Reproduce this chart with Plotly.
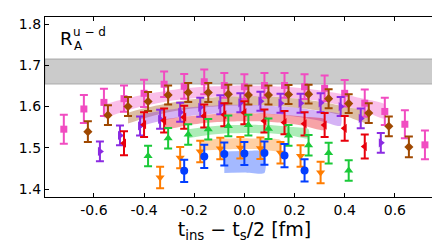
import plotly.graph_objects as go

# ---------------- data ----------------
pink_x = [-0.72, -0.64, -0.56, -0.48, -0.40, -0.32, -0.24, -0.16, -0.08, 0.0, 0.08, 0.16, 0.24, 0.32, 0.40, 0.48, 0.56, 0.64, 0.72]
pink_y = [1.545, 1.594, 1.610, 1.619, 1.632, 1.654, 1.649, 1.660, 1.651, 1.648, 1.651, 1.651, 1.648, 1.644, 1.632, 1.608, 1.588, 1.557, 1.507]
pink_e = [0.035, 0.034, 0.033, 0.032, 0.033, 0.031, 0.030, 0.030, 0.030, 0.030, 0.030, 0.030, 0.030, 0.031, 0.032, 0.033, 0.033, 0.034, 0.035]

brown_x = [-0.624, -0.544, -0.464, -0.384, -0.304, -0.224, -0.144, -0.064, 0.016, 0.096, 0.176, 0.256, 0.336, 0.416, 0.496, 0.576, 0.656]
brown_y = [1.539, 1.579, 1.600, 1.612, 1.628, 1.634, 1.634, 1.630, 1.628, 1.628, 1.629, 1.630, 1.619, 1.607, 1.584, 1.552, 1.502]
brown_e = [0.025, 0.024, 0.023, 0.023, 0.023, 0.023, 0.023, 0.023, 0.023, 0.023, 0.023, 0.023, 0.023, 0.023, 0.024, 0.024, 0.025]

purple_x = [-0.576, -0.496, -0.416, -0.336, -0.256, -0.176, -0.096, -0.016, 0.064, 0.144, 0.224, 0.304, 0.384, 0.464, 0.544]
purple_y = [1.491, 1.530, 1.553, 1.569, 1.586, 1.598, 1.604, 1.609, 1.613, 1.608, 1.608, 1.609, 1.600, 1.571, 1.512]
purple_e = [0.024, 0.024, 0.023, 0.023, 0.023, 0.023, 0.023, 0.023, 0.023, 0.023, 0.023, 0.023, 0.023, 0.024, 0.024]

red_x = [-0.48, -0.40, -0.32, -0.24, -0.16, -0.08, 0.0, 0.08, 0.16, 0.24, 0.32, 0.40, 0.48]
red_y = [1.511, 1.556, 1.566, 1.574, 1.577, 1.580, 1.585, 1.565, 1.561, 1.558, 1.555, 1.547, 1.503]
red_e = [0.029, 0.030, 0.029, 0.028, 0.028, 0.028, 0.028, 0.028, 0.028, 0.028, 0.029, 0.030, 0.029]

green_x = [-0.384, -0.304, -0.224, -0.144, -0.064, 0.016, 0.096, 0.176, 0.256, 0.336, 0.416]
green_y = [1.480, 1.523, 1.532, 1.545, 1.553, 1.555, 1.546, 1.530, 1.506, 1.487, 1.445]
green_e = [0.025, 0.025, 0.025, 0.025, 0.025, 0.025, 0.025, 0.025, 0.025, 0.025, 0.025]

orange_x = [-0.336, -0.256, -0.176, -0.096, -0.016, 0.064, 0.144, 0.224, 0.304]
orange_y = [1.428, 1.476, 1.491, 1.498, 1.500, 1.499, 1.488, 1.480, 1.440]
orange_e = [0.026, 0.026, 0.026, 0.026, 0.026, 0.026, 0.026, 0.026, 0.026]

blue_x = [-0.24, -0.16, -0.08, 0.0, 0.08, 0.16, 0.24]
blue_y = [1.444, 1.479, 1.485, 1.486, 1.487, 1.481, 1.445]
blue_e = [0.027, 0.028, 0.028, 0.028, 0.028, 0.028, 0.027]

# fit bands (centre, half-width) read at lattice points
pink_bx = [-0.56, -0.48, -0.40, -0.32, -0.24, -0.16, -0.08, 0.0, 0.08, 0.16, 0.24, 0.32, 0.40, 0.48, 0.56]
pink_bc = [1.588, 1.603, 1.615, 1.624, 1.631, 1.635, 1.637, 1.638, 1.637, 1.635, 1.631, 1.624, 1.615, 1.603, 1.588]
pink_bw = [0.017, 0.015, 0.014, 0.013, 0.013, 0.013, 0.013, 0.013, 0.013, 0.013, 0.013, 0.013, 0.014, 0.015, 0.017]

brown_bx = [-0.464, -0.384, -0.304, -0.224, -0.144, -0.064, 0.016, 0.096, 0.176, 0.256, 0.336, 0.416, 0.496]
brown_bc = [1.572, 1.586, 1.597, 1.605, 1.610, 1.613, 1.614, 1.613, 1.610, 1.605, 1.597, 1.586, 1.572]
brown_bw = [0.013, 0.012, 0.011, 0.011, 0.011, 0.011, 0.011, 0.011, 0.011, 0.011, 0.011, 0.012, 0.013]

purple_bx = [-0.416, -0.336, -0.256, -0.176, -0.096, -0.016, 0.064, 0.144, 0.224, 0.304, 0.384]
purple_bc = [1.566, 1.577, 1.585, 1.590, 1.593, 1.594, 1.593, 1.590, 1.585, 1.577, 1.567]
purple_bw = [0.014, 0.012, 0.011, 0.010, 0.010, 0.010, 0.010, 0.010, 0.011, 0.012, 0.014]

red_bx = [-0.32, -0.24, -0.16, -0.08, 0.0, 0.08, 0.16, 0.24, 0.32]
red_bc = [1.556, 1.564, 1.570, 1.573, 1.574, 1.573, 1.570, 1.564, 1.556]
red_bw = [0.013, 0.011, 0.010, 0.010, 0.010, 0.010, 0.010, 0.011, 0.013]

green_bx = [-0.224, -0.144, -0.064, 0.016, 0.096, 0.176, 0.256]
green_bc = [1.534, 1.541, 1.545, 1.546, 1.545, 1.541, 1.534]
green_bw = [0.011, 0.010, 0.010, 0.010, 0.010, 0.010, 0.011]

orange_bx = [-0.176, -0.096, -0.016, 0.064, 0.144]
orange_bc = [1.506, 1.509, 1.510, 1.509, 1.506]
orange_bw = [0.013, 0.013, 0.013, 0.013, 0.013]

blue_bx = [-0.08, 0.0, 0.08]
blue_bc = [1.465, 1.466, 1.465]
blue_bw = [0.026, 0.026, 0.026]

gray_lo, gray_hi = 1.655, 1.715

x_ticks = [-0.6, -0.4, -0.2, 0.0, 0.2, 0.4, 0.6]
x_tick_text = ["-0.6", "-0.4", "-0.2", "0.0", "0.2", "0.4", "0.6"]
y_ticks = [1.4, 1.5, 1.6, 1.7, 1.8]
y_tick_text = ["1.4", "1.5", "1.6", "1.7", "1.8"]

# ---------------- styles ----------------
series = [
    ("pink", pink_x, pink_y, pink_e, pink_bx, pink_bc, pink_bw, "#f14cc1", "241,76,193", "square", 7),
    ("brown", brown_x, brown_y, brown_e, brown_bx, brown_bc, brown_bw, "#9f4800", "159,72,0", "diamond", 7),
    ("purple", purple_x, purple_y, purple_e, purple_bx, purple_bc, purple_bw, "#8b2be2", "139,43,226", "triangle-right", 8),
    ("red", red_x, red_y, red_e, red_bx, red_bc, red_bw, "#e8000b", "232,0,11", "triangle-left", 8),
    ("green", green_x, green_y, green_e, green_bx, green_bc, green_bw, "#1ac938", "26,201,56", "triangle-up", 8),
    ("orange", orange_x, orange_y, orange_e, orange_bx, orange_bc, orange_bw, "#ff7c00", "255,124,0", "triangle-down", 8),
    ("blue", blue_x, blue_y, blue_e, blue_bx, blue_bc, blue_bw, "#023eff", "2,62,255", "circle", 8),
]

fig = go.Figure()

# bands
for name, x, y, e, bx, bc, bw, col, rgb, sym, ms in series:
    up = [c + w for c, w in zip(bc, bw)]
    lo = [c - w for c, w in zip(bc, bw)]
    fig.add_trace(go.Scatter(
        x=bx + bx[::-1], y=up + lo[::-1], mode="lines", fill="toself",
        fillcolor=f"rgba({rgb},0.36)", line=dict(width=0, shape="spline", smoothing=0.6),
        hoverinfo="skip", showlegend=False))

# points
for name, x, y, e, bx, bc, bw, col, rgb, sym, ms in series:
    fig.add_trace(go.Scatter(
        x=x, y=y, mode="markers", name=name,
        marker=dict(symbol=sym, size=ms, color=col, line=dict(width=0)),
        error_y=dict(type="data", array=e, visible=True, color=col, thickness=2, width=4),
        showlegend=False))

fig.add_shape(type="rect", xref="paper", yref="y", x0=0, x1=1, y0=gray_lo, y1=gray_hi,
              fillcolor="#cbcbcb", line=dict(color="#b0b0b0", width=1.2), layer="below")

fig.add_annotation(text="R", xref="paper", yref="paper", x=0.053, y=0.878, showarrow=False,
                   xanchor="center", yanchor="middle",
                   font=dict(family="DejaVu Sans", size=18, color="black"))
fig.add_annotation(text="u − d", xref="paper", yref="paper", x=0.112, y=0.918, showarrow=False,
                   xanchor="center", yanchor="middle",
                   font=dict(family="DejaVu Sans", size=12, color="black"))
fig.add_annotation(text="A", xref="paper", yref="paper", x=0.084, y=0.838, showarrow=False,
                   xanchor="center", yanchor="middle",
                   font=dict(family="DejaVu Sans", size=12, color="black"))

axis_common = dict(showline=True, linecolor="black", linewidth=1.3, mirror="ticks",
                   ticks="inside", ticklen=4, tickwidth=1.2, tickcolor="black",
                   showgrid=False, zeroline=False,
                   tickfont=dict(family="DejaVu Sans", size=14, color="black"))

fig.update_xaxes(range=[-0.795, 0.796], tickvals=x_ticks, ticktext=x_tick_text,
                 title=dict(text="t<sub>ins</sub> − t<sub>s</sub>/2 [fm]",
                            font=dict(family="DejaVu Sans", size=19, color="black"), standoff=4),
                 **axis_common)
fig.update_yaxes(range=[1.3806, 1.817], tickvals=y_ticks, ticktext=y_tick_text, **axis_common)

fig.update_layout(width=440, height=246, margin=dict(l=37, r=4, t=9, b=57),
                  plot_bgcolor="white", paper_bgcolor="white", showlegend=False)

fig.write_html("out.html")
